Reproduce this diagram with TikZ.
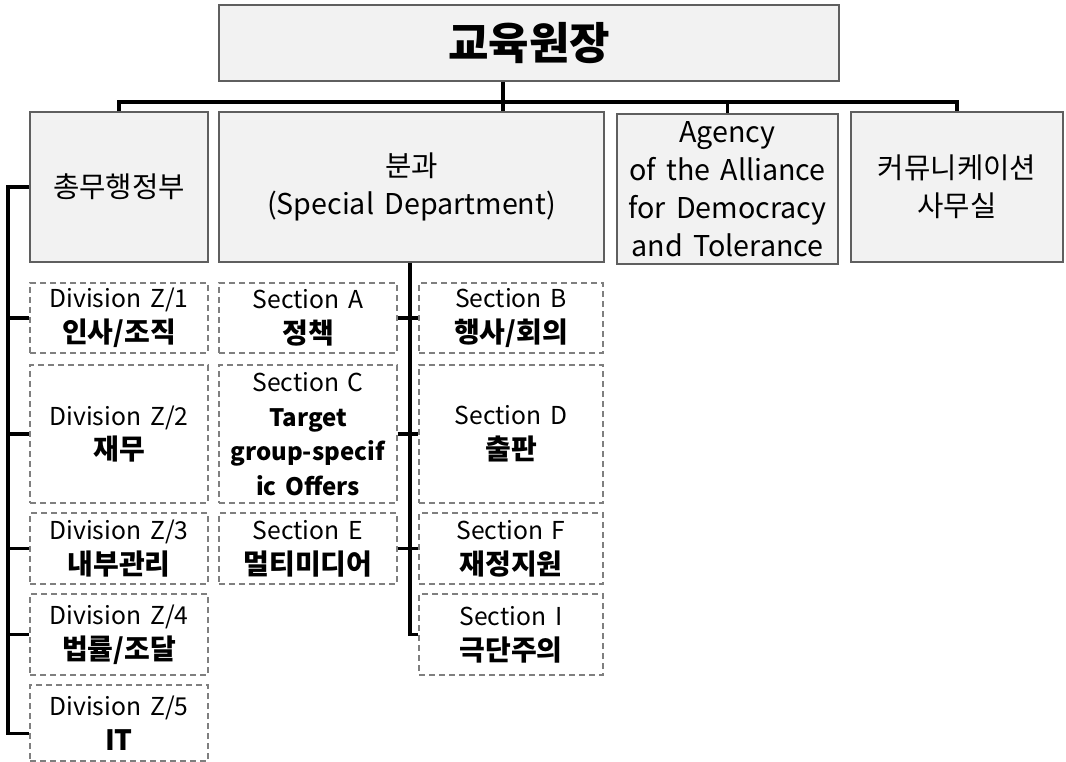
\documentclass[tikz,border=0pt]{standalone}
\usepackage{fontspec}
\setmainfont{Noto Sans CJK KR}[WordSpace=1.6]
\definecolor{boxfill}{HTML}{F2F2F2}
\definecolor{boxline}{HTML}{5F5F5F}
\definecolor{dashline}{HTML}{7F7F7F}
\newcommand{\myTitleFont}{\fontsize{33}{38}\selectfont}
\newcommand{\myMidFont}{\fontsize{21.5}{28.5}\selectfont}
\newcommand{\mySmallFont}{\fontsize{18.5}{26}\selectfont}
\newcommand{\myKo}[1]{{\fontsize{21}{26}\selectfont\textbf{#1}}}
\newcommand{\myLat}[1]{{\fontsize{18}{26}\selectfont\textbf{#1}}}
\begin{document}
\begin{tikzpicture}[x=0.75pt,y=-0.75pt,
  solidbox/.style={draw=boxline, fill=boxfill, line width=1.1pt, inner sep=0pt, align=center, font=\myMidFont},
  dbox/.style={draw=dashline, dash pattern=on 4.5pt off 3pt, line width=0.8pt, inner sep=0pt, align=center, font=\mySmallFont},
  conn/.style={line width=2.5pt, draw=black}]
\useasboundingbox (0,0) rectangle (1066,762);

% top level
\node[solidbox, minimum width=465pt, minimum height=57pt, font=\myTitleFont] (top) at (529,43) {\textbf{교육원장}};
% second level
\node[solidbox, minimum width=133.5pt, minimum height=112.5pt] (gen) at (119,187) {총무행정부};
\node[solidbox, minimum width=288.75pt, minimum height=112.5pt] (spec) at (411.5,187) {분과\\(Special Department)};
\node[solidbox, minimum width=165.75pt, minimum height=112.5pt] (agency) at (727.5,189) {Agency\\of the Alliance\\for Democracy\\and Tolerance};
\node[solidbox, minimum width=159pt, minimum height=112.5pt] (comm) at (957,187) {커뮤니케이션\\사무실};

% divisions
\node[dbox, minimum width=133.5pt, minimum height=52.5pt] (d1) at (119,318) {Division Z/1\\\myKo{인사/조직}};
\node[dbox, minimum width=133.5pt, minimum height=103.5pt] (d2) at (119,434) {Division Z/2\\\myKo{재무}};
\node[dbox, minimum width=133.5pt, minimum height=53.25pt] (d3) at (119,548.5) {Division Z/3\\\myKo{내부관리}};
\node[dbox, minimum width=133.5pt, minimum height=60.75pt] (d4) at (119,634.5) {Division Z/4\\\myKo{법률/조달}};
\node[dbox, minimum width=133.5pt, minimum height=57pt] (d5) at (119,723) {Division Z/5\\\myKo{IT}};

% sections left column
\node[dbox, minimum width=133.5pt, minimum height=52.5pt] (sa) at (308,318) {Section A\\\myKo{정책}};
\node[dbox, minimum width=133.5pt, minimum height=103.5pt] (sc) at (308,434) {Section C\\\myLat{Target}\\\myLat{group-specif}\\\myLat{ic Offers}};
\node[dbox, minimum width=133.5pt, minimum height=53.25pt] (se) at (308,548.5) {Section E\\\myKo{멀티미디어}};

% sections right column
\node[dbox, minimum width=138pt, minimum height=52.5pt] (sb) at (511,318) {Section B\\\myKo{행사/회의}};
\node[dbox, minimum width=138pt, minimum height=103.5pt] (sd) at (511,434) {Section D\\\myKo{출판}};
\node[dbox, minimum width=138pt, minimum height=53.25pt] (sf) at (511,548.5) {Section F\\\myKo{재정지원}};
\node[dbox, minimum width=138pt, minimum height=60.75pt] (si) at (511,634.5) {Section I\\\myKo{극단주의}};

% helper coordinates
\coordinate (tk) at (503,0);
\coordinate (bus) at (0,102);
\coordinate (lt) at (8,0);
\coordinate (st) at (410,0);

% connectors
\draw[conn] (top.south -| tk) -- (spec.north -| tk);
\draw[conn] (gen.north) -- (gen.north |- bus) -- (comm.north |- bus) -- (comm.north);
\draw[conn] (agency.north |- bus) -- (agency.north);
\draw[conn] (gen.west) -| ([yshift=-8pt]lt |- d5.west) -- ([yshift=-8pt]d5.west);
\foreach \n in {d1,d2,d3,d4} \draw[conn] (lt |- \n.west) -- (\n.west);
\draw[conn] (spec.south -| st) |- (si.west);
\draw[conn] (sa.east) -- (sb.west);
\draw[conn] (sc.east) -- (sd.west);
\draw[conn] (se.east) -- (sf.west);
\end{tikzpicture}
\end{document}
